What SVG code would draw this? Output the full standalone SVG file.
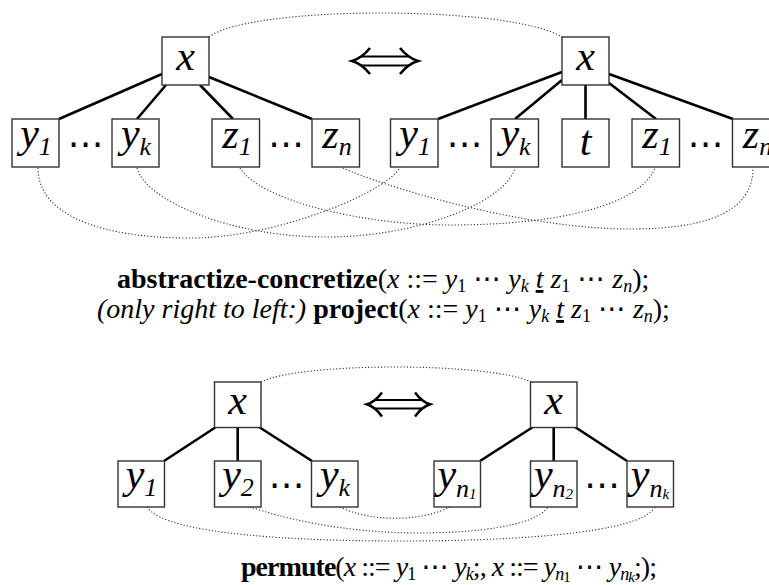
<svg xmlns="http://www.w3.org/2000/svg" width="769" height="585" viewBox="0 0 769 585">
<style>
.box{fill:#fff;stroke:#333;stroke-width:1.4}
.edge{stroke:#000;stroke-width:2.6;fill:none}
.dot{stroke:#333;stroke-width:1.1;fill:none;stroke-dasharray:1.2 2}
.arr{stroke:#000;fill:none}
.lbl{font-family:'Liberation Serif','DejaVu Serif',serif;font-style:italic;font-size:42px;text-anchor:middle;fill:#000}
.sub{font-size:26px}
.ss{font-size:15px}
.dots{font-family:'DejaVu Sans',sans-serif;font-size:36px;text-anchor:middle;fill:#000}
.m{font-family:'Liberation Serif','DejaVu Serif',serif;font-size:28px;fill:#000}
.b{font-weight:bold}
.i{font-style:italic}
.ms{font-size:18px}
.cd{font-family:'DejaVu Sans',sans-serif;font-style:normal;font-weight:normal}
</style>
<rect width="769" height="585" fill="#fff"/>
<g id="connectors">
<path class="edge" d="M162,74L59,119M166,85L137,119M200,85L233,119M209,77L312,119"/>
<path class="edge" d="M562,72L438,119M562,80L515,119M585.5,85L585.5,119M609,83L656,119M609,74L733,119"/>
<path class="edge" d="M216,427L164,461M237.7,427L237.7,461M259,427L312,461"/>
<path class="edge" d="M533,427L480,461M553.7,427L553.7,461M575,427L627,461"/>
<path class="dot" d="M209,37C250,5 510,5 562,37"/>
<path class="dot" d="M38,168C38,215 100,238 190,238C280,238 390,190 400,167"/>
<path class="dot" d="M137,168C145,200 230,237 326,237C422,237 507,200 515,168"/>
<path class="dot" d="M240,168C260,200 360,225 450,225C560,225 640,205 655,168"/>
<path class="dot" d="M343,168C380,185 520,229 630,229C700,229 753,215 753,168"/>
<path class="dot" d="M261,382C300,362 490,362 531,382"/>
<path class="dot" d="M147,507C165,535 300,541 400,541C500,541 640,535 655,507"/>
<path class="dot" d="M250,507C280,517 340,533 420,533C470,533 535,527 548,507"/>
<path class="dot" d="M340,507C370,522 420,522 450,507"/>
</g>
<g id="arrow-top">
<path class="arr" stroke-width="1.8" d="M361,56.5H409M361,65.5H409"/>
<path class="arr" stroke-width="2.6" d="M370,48Q362,58 352,61Q362,64 370,74M400,48Q408,58 418,61Q408,64 400,74"/>
</g>
<g id="arrow-bottom">
<path class="arr" stroke-width="1.8" d="M375,400H422M375,408.5H422"/>
<path class="arr" stroke-width="2.5" d="M382,392.5Q375,402 367,404.3Q375,407 382,416.5M415,392.5Q422,402 430,404.3Q422,407 415,416.5"/>
</g>
<g id="top-left-x"><rect class="box" x="162" y="37" width="47" height="48"/><text class="lbl" x="185.5" y="70">x</text></g>
<g id="top-left-y1"><rect class="box" x="12" y="119" width="47" height="48"/><text class="lbl" x="36" y="147">y<tspan class="sub" dy="8">1</tspan></text></g>
<g id="top-left-yk"><rect class="box" x="112" y="119" width="47" height="48"/><text class="lbl" x="136" y="147">y<tspan class="sub" dy="8">k</tspan></text></g>
<g id="top-left-z1"><rect class="box" x="212" y="119" width="47.5" height="48"/><text class="lbl" x="237" y="148">z<tspan class="sub" dy="7">1</tspan></text></g>
<g id="top-left-zn"><rect class="box" x="312" y="119" width="47.5" height="48"/><text class="lbl" x="337" y="148">z<tspan class="sub" dy="7">n</tspan></text></g>
<text class="dots" x="85.5" y="156">⋯</text>
<text class="dots" x="286" y="156">⋯</text>
<g id="top-right-x"><rect class="box" x="562" y="37" width="47" height="48"/><text class="lbl" x="585.5" y="70">x</text></g>
<g id="top-right-y1"><rect class="box" x="390.5" y="119" width="47.5" height="48"/><text class="lbl" x="415" y="147">y<tspan class="sub" dy="8">1</tspan></text></g>
<g id="top-right-yk"><rect class="box" x="491" y="119" width="47.5" height="48"/><text class="lbl" x="515.5" y="147">y<tspan class="sub" dy="8">k</tspan></text></g>
<g id="top-right-t"><rect class="box" x="562" y="119" width="47" height="48"/><text class="lbl" x="585.5" y="155">t</text></g>
<g id="top-right-z1"><rect class="box" x="632" y="119" width="47.5" height="48"/><text class="lbl" x="657" y="148">z<tspan class="sub" dy="7">1</tspan></text></g>
<g id="top-right-zn"><rect class="box" x="732.5" y="119" width="47.5" height="48"/><text class="lbl" x="757.5" y="148">z<tspan class="sub" dy="7">n</tspan></text></g>
<text class="dots" x="464.5" y="156">⋯</text>
<text class="dots" x="705.5" y="156">⋯</text>
<text class="m" x="117" y="288"><tspan class="b">abstractize-concretize</tspan>(<tspan class="i">x</tspan> ::= <tspan class="i">y</tspan><tspan class="ms" dy="4">1</tspan><tspan dy="-4"> </tspan><tspan class="cd">⋯</tspan> <tspan class="i">y</tspan><tspan class="ms i" dy="4">k</tspan><tspan dy="-4"> </tspan><tspan class="i" text-decoration="underline">t</tspan> <tspan class="i">z</tspan><tspan class="ms" dy="4">1</tspan><tspan dy="-4"> </tspan><tspan class="cd">⋯</tspan> <tspan class="i">z</tspan><tspan class="ms i" dy="4">n</tspan><tspan dy="-4">);</tspan></text>
<text class="m" x="97" y="318"><tspan class="i">(only right to left:)</tspan> <tspan class="b">project</tspan>(<tspan class="i">x</tspan> ::= <tspan class="i">y</tspan><tspan class="ms" dy="4">1</tspan><tspan dy="-4"> </tspan><tspan class="cd">⋯</tspan> <tspan class="i">y</tspan><tspan class="ms i" dy="4">k</tspan><tspan dy="-4"> </tspan><tspan class="i" text-decoration="underline">t</tspan> <tspan class="i">z</tspan><tspan class="ms" dy="4">1</tspan><tspan dy="-4"> </tspan><tspan class="cd">⋯</tspan> <tspan class="i">z</tspan><tspan class="ms i" dy="4">n</tspan><tspan dy="-4">);</tspan></text>
<g id="bot-left-x"><rect class="box" x="214.5" y="382" width="46.5" height="45.5"/><text class="lbl" x="237.7" y="414">x</text></g>
<g id="bot-left-y1"><rect class="box" x="118" y="461" width="46.5" height="46"/><text class="lbl" x="141.5" y="488">y<tspan class="sub" dy="8">1</tspan></text></g>
<g id="bot-left-y2"><rect class="box" x="214.5" y="461" width="46.5" height="46"/><text class="lbl" x="238" y="488">y<tspan class="sub" dy="8">2</tspan></text></g>
<g id="bot-left-yk"><rect class="box" x="311.5" y="461" width="46.5" height="46"/><text class="lbl" x="335" y="488">y<tspan class="sub" dy="8">k</tspan></text></g>
<text class="dots" x="286.5" y="497">⋯</text>
<g id="bot-right-x"><rect class="box" x="530.5" y="382" width="46.5" height="45.5"/><text class="lbl" x="553.7" y="414">x</text></g>
<g id="bot-right-yn1"><rect class="box" x="434" y="461" width="46.5" height="46"/><text class="lbl" x="457" y="488">y<tspan class="sub" dy="9">n</tspan><tspan class="ss" dy="2">1</tspan></text></g>
<g id="bot-right-yn2"><rect class="box" x="530.5" y="461" width="46.5" height="46"/><text class="lbl" x="553.5" y="488">y<tspan class="sub" dy="9">n</tspan><tspan class="ss" dy="2">2</tspan></text></g>
<g id="bot-right-ynk"><rect class="box" x="627" y="461" width="46.5" height="46"/><text class="lbl" x="650" y="488">y<tspan class="sub" dy="9">n</tspan><tspan class="ss" dy="2">k</tspan></text></g>
<text class="dots" x="602" y="497">⋯</text>
<text class="m" x="241" y="576" font-size="26" textLength="416" lengthAdjust="spacing"><tspan class="b">permute</tspan>(<tspan class="i">x</tspan> ::= <tspan class="i">y</tspan><tspan class="ms" dy="4">1</tspan><tspan dy="-4"> </tspan><tspan class="cd">⋯</tspan> <tspan class="i">y</tspan><tspan class="ms i" dy="4">k</tspan><tspan dy="-4">;, </tspan><tspan class="i">x</tspan> ::= <tspan class="i">y</tspan><tspan class="ms i" dy="4">n</tspan><tspan class="ss" dy="2">1</tspan><tspan dy="-6"> </tspan><tspan class="cd">⋯</tspan> <tspan class="i">y</tspan><tspan class="ms i" dy="4">n</tspan><tspan class="ss i" dy="2">k</tspan><tspan dy="-6">;);</tspan></text>
</svg>
